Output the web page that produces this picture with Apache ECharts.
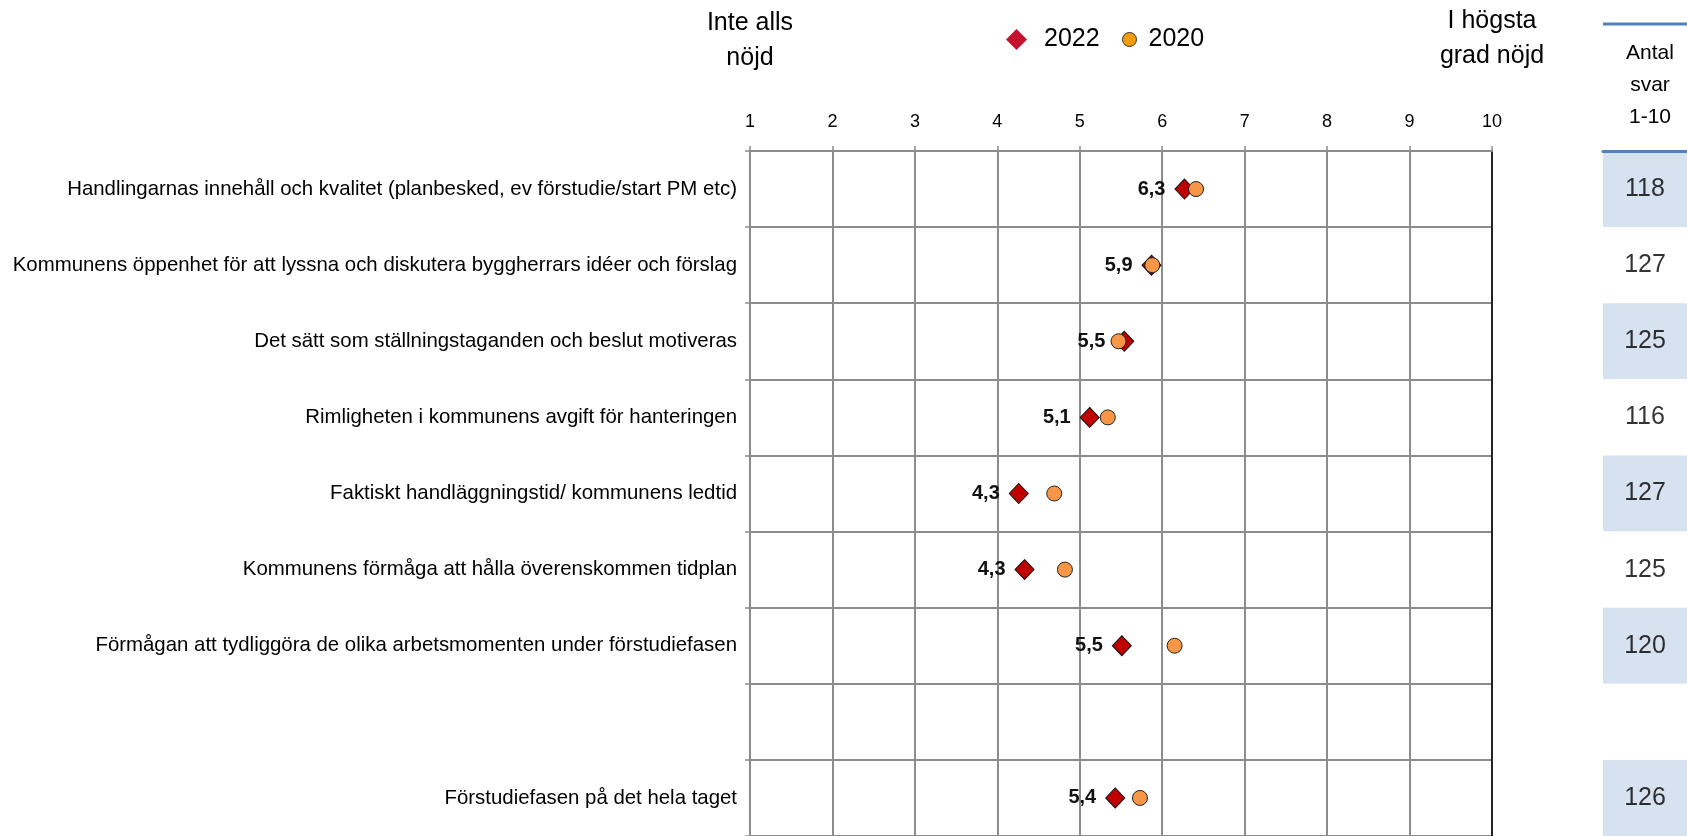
<!DOCTYPE html>
<html>
<head>
<meta charset="utf-8">
<script src="https://cdn.jsdelivr.net/npm/echarts@6/dist/echarts.min.js"></script>
<style>
html,body{margin:0;padding:0;background:#fff;}
#chart{width:1687px;height:836px;}
</style>
</head>
<body>
<div id="chart"></div>
<script>
const categories = [
  "Handlingarnas innehåll och kvalitet (planbesked, ev förstudie/start PM etc)",
  "Kommunens öppenhet för att lyssna och diskutera byggherrars idéer och förslag",
  "Det sätt som ställningstaganden och beslut motiveras",
  "Rimligheten i kommunens avgift för hanteringen",
  "Faktiskt handläggningstid/ kommunens ledtid",
  "Kommunens förmåga att hålla överenskommen tidplan",
  "Förmågan att tydliggöra de olika arbetsmomenten under förstudiefasen",
  "",
  "Förstudiefasen på det hela taget"
];
const values2022 = [6.27, 5.87, 5.54, 5.12, 4.26, 4.33, 5.51, null, 5.43];
const values2020 = [6.41, 5.88, 5.47, 5.34, 4.69, 4.82, 6.15, null, 5.73];
const counts = [118, 127, 125, 116, 127, 125, 120, null, 126];
const xTicks = [1, 2, 3, 4, 5, 6, 7, 8, 9, 10];

const FONT = "'Liberation Sans', Arial, sans-serif";
const GRID_TOP = 151, GRID_H = 688;

const chart = echarts.init(document.getElementById('chart'));
const option = {
  animation: false,
  textStyle: { fontFamily: FONT },
  legend: [
    {
      left: 1001, top: 22,
      itemWidth: 21, itemHeight: 21,
      textStyle: { fontFamily: FONT, fontSize: 25, color: '#000', padding: [0, 0, 0, 12] },
      data: [{ name: '2022', icon: 'diamond', itemStyle: { borderWidth: 0, color: '#C41230' } }]
    },
    {
      left: 1117, top: 22,
      itemWidth: 14, itemHeight: 21,
      textStyle: { fontFamily: FONT, fontSize: 25, color: '#000', padding: [0, 0, 0, 7] },
      data: [{ name: '2020', icon: 'circle', itemStyle: { borderWidth: 1, borderColor: '#333', color: '#F39C0A' } }]
    }
  ],
  grid: [
    { left: 750, width: 742, top: GRID_TOP, height: GRID_H, containLabel: false },
    { left: 1603, right: 0, top: GRID_TOP, height: GRID_H, containLabel: false }
  ],
  xAxis: [
    {
      gridIndex: 0, type: 'value', position: 'top', min: 1, max: 10, interval: 1,
      axisLine: { show: true, lineStyle: { color: '#8c8c8c', width: 2 } },
      axisTick: { show: true, length: 5, lineStyle: { color: '#8c8c8c', width: 1.5 } },
      axisLabel: { fontSize: 18, color: '#000', margin: 20, fontFamily: FONT,
        formatter: v => xTicks.includes(v) ? String(v) : '' },
      splitLine: { show: true, lineStyle: { color: '#8c8c8c', width: 2 } }
    },
    {
      gridIndex: 1, type: 'value', position: 'top', min: 0, max: 1,
      axisLine: { show: true, lineStyle: { color: '#4F81BD', width: 3 } },
      axisTick: { show: false }, axisLabel: { show: false }, splitLine: { show: false }
    }
  ],
  yAxis: [
    {
      gridIndex: 0, type: 'category', inverse: true, data: categories,
      axisLine: { show: true, lineStyle: { color: '#8c8c8c', width: 2 } },
      axisTick: { show: true, length: 5, interval: 0, lineStyle: { color: '#8c8c8c', width: 1.5 } },
      axisLabel: { fontSize: 20.4, color: '#000', margin: 13, fontFamily: FONT, interval: 0 },
      splitLine: { show: true, interval: 0, lineStyle: { color: '#8c8c8c', width: 2 } }
    },
    {
      gridIndex: 0, type: 'category', inverse: true, data: categories, position: 'right',
      axisLine: { show: true, lineStyle: { color: '#000', width: 1.5 } },
      axisTick: { show: false }, axisLabel: { show: false }, splitLine: { show: false }
    },
    {
      gridIndex: 1, type: 'category', inverse: true, data: categories,
      axisLine: { show: false }, axisTick: { show: false }, axisLabel: { show: false },
      splitLine: { show: false },
      splitArea: { show: true, interval: 0, areaStyle: { color: ['#D6E2EF', '#FFFFFF'] } }
    }
  ],
  series: [
    {
      name: '2022', type: 'scatter', xAxisIndex: 0, yAxisIndex: 0,
      symbol: 'diamond', symbolSize: [19, 20],
      itemStyle: { color: '#C00000', borderColor: '#111', borderWidth: 1, opacity: 1 },
      label: {
        show: true, position: 'left', distance: 9,
        fontSize: 20, fontWeight: 'bold', color: '#111', fontFamily: FONT,
        formatter: p => p.value[0].toFixed(1).replace('.', ',')
      },
      data: values2022.map((v, i) => v == null ? null : [v, i]).filter(d => d)
    },
    {
      name: '2020', type: 'scatter', xAxisIndex: 0, yAxisIndex: 0,
      symbol: 'circle', symbolSize: 15,
      itemStyle: { color: '#F79646', borderColor: '#222', borderWidth: 1, opacity: 1 },
      data: values2020.map((v, i) => v == null ? null : [v, i]).filter(d => d)
    },
    {
      name: 'counts', type: 'scatter', xAxisIndex: 1, yAxisIndex: 2,
      symbolSize: 1, itemStyle: { color: 'rgba(0,0,0,0)' },
      label: { show: true, position: 'inside', fontSize: 25, color: '#000', fontFamily: FONT,
        formatter: p => String(p.value[2]) },
      data: counts.map((c, i) => c == null ? null : [0.5, i, c]).filter(d => d)
    }
  ],
  graphic: [
    { type: 'text', x: 750, y: 6,
      style: { text: 'Inte alls\nnöjd', fontSize: 25, lineHeight: 35, fill: '#000', fontFamily: FONT, textAlign: 'center' } },
    { type: 'text', x: 1492, y: 4,
      style: { text: 'I högsta\ngrad nöjd', fontSize: 25, lineHeight: 35, fill: '#000', fontFamily: FONT, textAlign: 'center' } },
    { type: 'text', x: 1650, y: 37,
      style: { text: 'Antal\nsvar\n1-10', fontSize: 21, lineHeight: 32, fill: '#000', fontFamily: FONT, textAlign: 'center' } },
    { type: 'line', shape: { x1: 1603, y1: 24, x2: 1687, y2: 24 },
      style: { stroke: '#4F81BD', lineWidth: 3 } }
  ]
};
chart.setOption(option);
</script>
</body>
</html>
